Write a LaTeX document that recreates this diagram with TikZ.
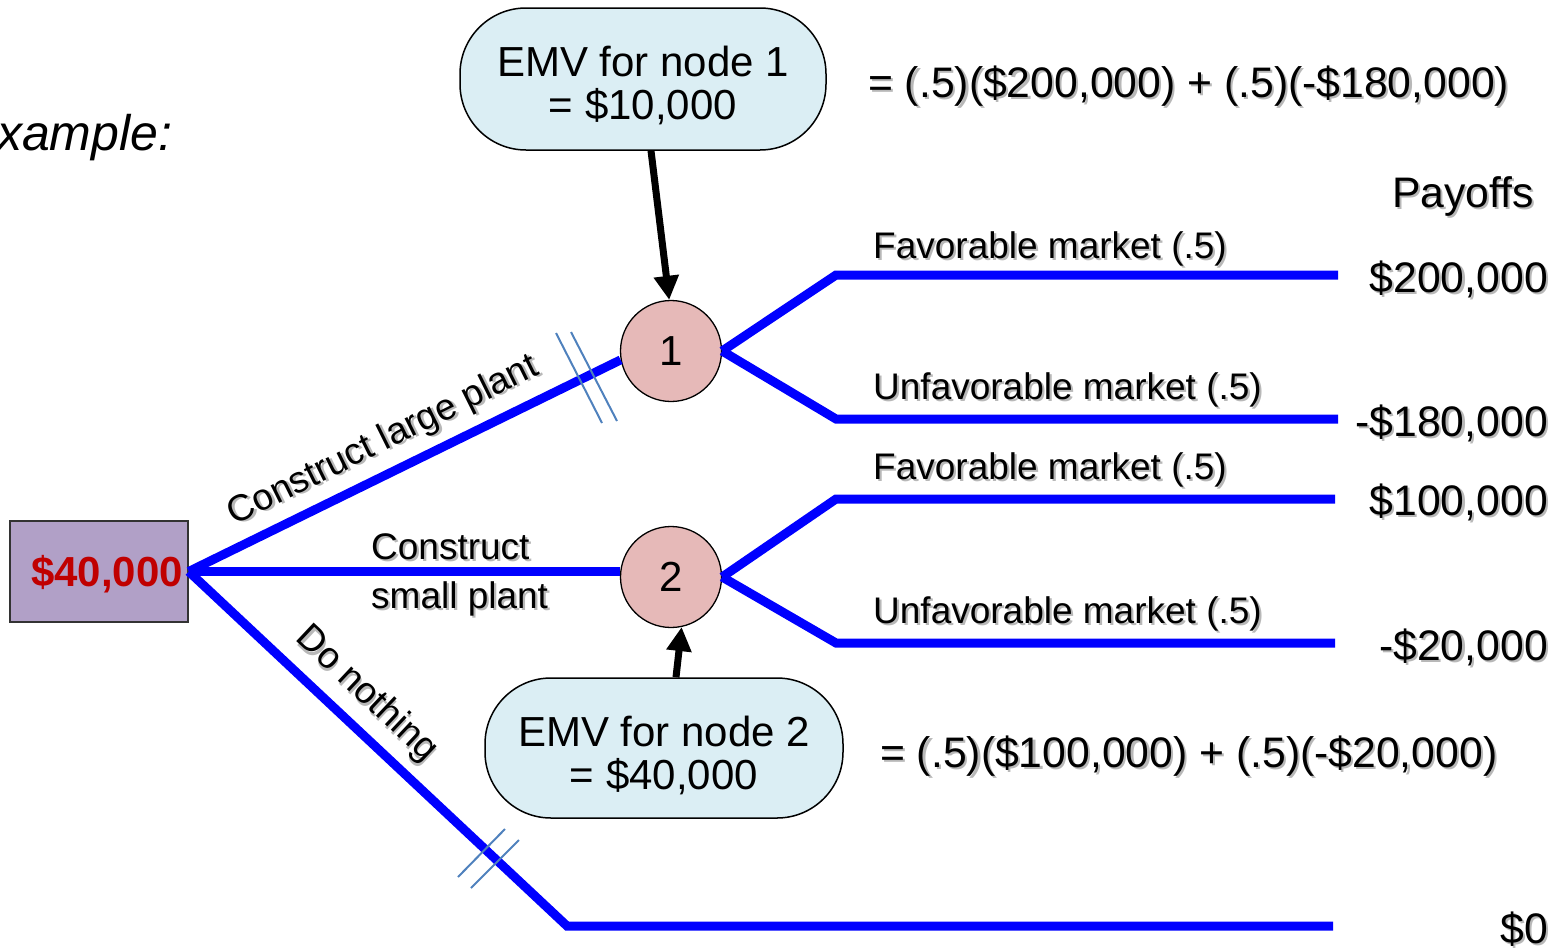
\documentclass[tikz,border=0pt]{standalone}
\usepackage{fontspec}
\setmainfont{Liberation Sans}
\usetikzlibrary{arrows.meta,calc}

\definecolor{branchblue}{HTML}{0000FF}
\definecolor{hashblue}{HTML}{4F81BD}
\definecolor{chancefill}{HTML}{E6B9B8}
\definecolor{emvfill}{HTML}{DBEEF4}
\definecolor{decfill}{HTML}{B1A0C7}
\definecolor{decred}{HTML}{C00000}

% text with a soft grey drop shadow
\newcommand\shd[1]{\leavevmode\rlap{\kern2.2pt\raisebox{-2.2pt}{\textcolor{black!28}{#1}}}#1}

\tikzset{
  branch/.style={draw=branchblue, line width=9pt},
  hashmark/.style={draw=hashblue, line width=2pt},
  chance/.style={circle, draw=black, line width=1.3pt, fill=chancefill,
    minimum size=101pt, inner sep=0pt, font=\fontsize{42}{46}\selectfont},
  decision/.style={rectangle, draw=black!80, line width=1.5pt, fill=decfill,
    minimum width=178pt, minimum height=101pt, inner sep=0pt},
  dectext/.style={inner sep=0pt, font=\fontsize{42}{46}\selectfont\bfseries,
    text=decred},
  emvbox/.style={rectangle, rounded corners=66pt, draw=black, line width=1.5pt,
    fill=emvfill, inner sep=0pt},
  emvtext/.style={align=center, inner sep=0pt,
    font=\fontsize{42}{43}\selectfont},
  emvarrow/.style={draw=black, line width=7pt,
    -{Triangle[width=24pt,length=24pt]}},
  lab/.style={inner sep=0pt, font=\fontsize{37}{40}\selectfont},
  big/.style={inner sep=0pt, font=\fontsize{42.7}{46}\selectfont},
}

\begin{document}
\begin{tikzpicture}[x=1pt, y=-1pt]
\useasboundingbox (0,0) rectangle (1558,948);

% decision node
\node[decision] (d) at (99,571.5) {};
\node[dectext] (dv) at (107,574) {\$40,000};

% chance nodes
\node[chance] (n1) at (671,351) {1};
\node[chance] (n2) at (671,577) {2};

% EMV call-out boxes
\node[emvbox, minimum width=366pt, minimum height=142pt] (e1) at (643,79) {};
\node[emvtext] (e1t) at (643,85) {EMV for node 1\\= \$10,000};
\node[emvbox, minimum width=358pt, minimum height=140pt] (e2) at (664,748) {};
\node[emvtext] (e2t) at (664,755) {EMV for node 2\\= \$40,000};

% branch ends
\coordinate (k1) at (836,275);   \coordinate (p1) at (1338,275);
\coordinate (k2) at (836,419);   \coordinate (p2) at (1338,419);
\coordinate (k3) at (836,499);   \coordinate (p3) at (1335,499);
\coordinate (k4) at (836,643);   \coordinate (p4) at (1335,643);
\coordinate (k5) at (567,926);   \coordinate (p5) at (1333,926);

% decision branches
\draw[branch] (d.east) -- (n1.190);
\draw[branch] (d.east) -- (d.east -| n2.west);
\draw[branch] (d.east) -- (k5) -- (p5);

% chance branches
\draw[branch] (n1.east) -- (k1) -- (p1);
\draw[branch] (n1.east) -- (k2) -- (p2);
\draw[branch] (n2.east) -- (k3) -- (p3);
\draw[branch] (n2.east) -- (k4) -- (p4);

% pruned branches
\draw[hashmark] (556,333) -- (602,423);
\draw[hashmark] (571,332) -- (617,421);
\draw[hashmark] (505,829) -- (458,877);
\draw[hashmark] (519,840) -- (471,888);

% EMV arrows
\draw[emvarrow] ($(e1.south)+(8,0)$) -- (n1.92);
\draw[emvarrow] ($(e2.north)+(12,0)$) -- (n2.-78);

% branch labels
\node[lab, rotate=26.4] (lbig) at (384,442) {\shd{Construct large plant}};
\node[lab, anchor=base west] (lsm1) at (371,559) {\shd{Construct}};
\node[lab, anchor=base west] (lsm2) at (371,608) {\shd{small plant}};
\node[lab, rotate=-43.2] (lno) at (366,695) {\shd{Do nothing}};

\node[lab, anchor=base west] (m1) at (873,258) {\shd{Favorable market (.5)}};
\node[lab, anchor=base west] (m2) at (873,399) {\shd{Unfavorable market (.5)}};
\node[lab, anchor=base west] (m3) at (873,479) {\shd{Favorable market (.5)}};
\node[lab, anchor=base west] (m4) at (873,623) {\shd{Unfavorable market (.5)}};

% payoffs
\node[big, anchor=base east] (ph) at (1534,207) {\shd{Payoffs}};
\node[big, anchor=base east] (v1) at (1548,292) {\shd{\$200,000}};
\node[big, anchor=base east] (v2) at (1548,436) {\shd{-\$180,000}};
\node[big, anchor=base east] (v3) at (1548,515) {\shd{\$100,000}};
\node[big, anchor=base east] (v4) at (1548,660) {\shd{-\$20,000}};
\node[big, anchor=base east] (v5) at (1548,943) {\shd{\$0}};

% EMV formulas
\node[big, anchor=base west] (f1) at (868,97)
  {\shd{= (.5)(\$200,000) + (.5)(-\$180,000)}};
\node[big, anchor=base west] (f2) at (880,767)
  {\shd{= (.5)(\$100,000) + (.5)(-\$20,000)}};

% heading
\node[inner sep=0pt, anchor=base west, font=\fontsize{50}{54}\selectfont\itshape]
  (hd) at (-3,150) {xample:};
\end{tikzpicture}
\end{document}
